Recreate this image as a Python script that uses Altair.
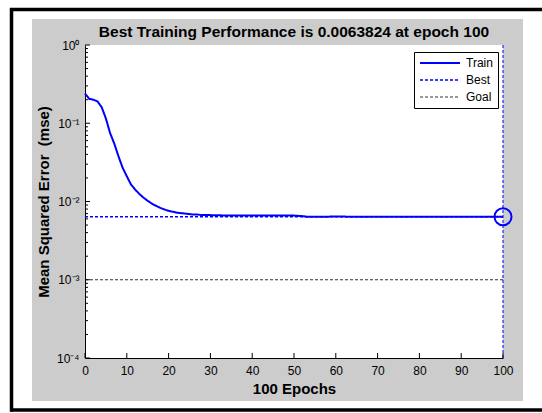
import altair as alt
import pandas as pd

# ---------------- data ----------------
epochs = list(range(0, 31)) + [35, 40, 45, 50, 52, 53, 60, 70, 80, 90, 100]
train_mse = [0.240, 0.205, 0.200, 0.190, 0.160, 0.115, 0.075, 0.055, 0.038, 0.027,
             0.021, 0.0165, 0.0142, 0.0125, 0.0112, 0.0102, 0.0094, 0.0088, 0.0083, 0.0079,
             0.0076, 0.0074, 0.0072, 0.0071, 0.0070, 0.0069, 0.0068, 0.0068, 0.0067, 0.0067,
             0.0067, 0.0066, 0.0066, 0.0066, 0.0066, 0.0065, 0.0064, 0.00641, 0.0064, 0.0064,
             0.00639, 0.0063824]
best_epoch = 100
best_mse = 0.0063824
goal_mse = 0.001
series_names = ["Train", "Best", "Goal"]
series_colors = ["#0000ff", "#0000ff", "#333333"]
series_dashes = [[1, 0], [3, 2], [3, 2]]
series_widths = [2, 1, 1]

x_ticks = [0, 10, 20, 30, 40, 50, 60, 70, 80, 90, 100]
y_major = [0.0001, 0.001, 0.01, 0.1, 1.0]
y_labels = ["10\u207b\u2074", "10\u207b\u00b3", "10\u207b\u00b2", "10\u207b\u00b9", "10\u2070"]
y_minor = [m * 10.0 ** e for e in range(-4, 0) for m in range(2, 10)]

title_text = "Best Training Performance is 0.0063824 at epoch 100"
x_title = "100 Epochs"
y_title = "Mean Squared Error\u00a0 (mse)"

# ---------------- layout ----------------
W, H = 418, 313
PAD = {"left": 85, "top": 45, "right": 39, "bottom": 55}
FONT = "Liberation Sans"
GRAY = "#cccccc"

rows = [{"epoch": e, "mse": v, "series": "Train"} for e, v in zip(epochs, train_mse)]
rows += [{"epoch": 0, "mse": best_mse, "series": "Best"},
         {"epoch": best_epoch, "mse": best_mse, "series": "Best"}]
rows += [{"epoch": 0, "mse": goal_mse, "series": "Goal"},
         {"epoch": best_epoch, "mse": goal_mse, "series": "Goal"}]
df = pd.DataFrame(rows)

xscale = alt.Scale(domain=[0, 100], nice=False, zero=False)
yscale = alt.Scale(type="log", domain=[0.0001, 1.0], nice=False)

parts = []
for v, lab in zip(y_major[:-1], y_labels[:-1]):
    parts.append(f"datum.value < {v * 5} ? '{lab}' : ")
label_expr = "".join(parts) + "'" + y_labels[-1] + "'"

one = alt.Data(values=[{"k": 1}])

X_ENC = dict(scale=xscale, title=x_title)
Y_ENC = dict(scale=yscale, title=y_title)

legend = alt.Legend(title=None, orient="none", legendX=329, legendY=7,
                    symbolType="M-1,0H7", symbolSize=100, strokeColor="black",
                    fillColor="white", padding=5, rowPadding=5, labelFontSize=12,
                    labelFont=FONT, labelColor="black", labelOffset=35,
                    cornerRadius=0)

lines = alt.Chart(df).mark_line().encode(
    x=alt.X("epoch:Q", **X_ENC,
            axis=alt.Axis(values=x_ticks, labelPadding=7, titleX=W / 2, titleY=30)),
    y=alt.Y("mse:Q", **Y_ENC,
            axis=alt.Axis(values=y_major, labelExpr=label_expr, titleX=-42, titleY=H / 2)),
    color=alt.Color("series:N", scale=alt.Scale(domain=series_names, range=series_colors),
                    legend=legend),
    strokeDash=alt.StrokeDash("series:N", scale=alt.Scale(domain=series_names, range=series_dashes),
                              legend=legend),
    strokeWidth=alt.StrokeWidth("series:N", scale=alt.Scale(domain=series_names, range=series_widths),
                                legend=legend),
)

vrule = alt.Chart(alt.Data(values=[{"epoch": best_epoch}])).mark_rule(
    color="#0000ff", strokeDash=[3, 2], strokeWidth=1).encode(
    x=alt.X("epoch:Q", **X_ENC))

circle = alt.Chart(alt.Data(values=[{"epoch": best_epoch, "mse": best_mse}])).mark_point(
    shape="circle", filled=False, color="#0000ff", strokeWidth=2, size=290, opacity=1).encode(
    x=alt.X("epoch:Q", **X_ENC),
    y=alt.Y("mse:Q", **Y_ENC))

# white margins around the grey figure area
margins = alt.Chart(one).mark_rect(fillOpacity=0, stroke="white", strokeWidth=60).encode(
    x=alt.value(-83), x2=alt.value(468), y=alt.value(-56), y2=alt.value(386))

# black outer frame (left, top, bottom)
frame_l = alt.Chart(one).mark_rule(color="black", strokeWidth=3.5).encode(
    x=alt.value(-73.5), y=alt.value(-37), y2=alt.value(366.5))
frame_t = alt.Chart(one).mark_rule(color="black", strokeWidth=3.5).encode(
    x=alt.value(-75), x2=alt.value(457), y=alt.value(-35.5))
frame_b = alt.Chart(one).mark_rule(color="black", strokeWidth=3.5).encode(
    x=alt.value(-75), x2=alt.value(457), y=alt.value(365))

title = alt.Chart(one).mark_text(text=title_text, font=FONT, fontSize=15.5, fontWeight="bold",
                                 color="black", align="center", baseline="alphabetic").encode(
    x=alt.value(W / 2), y=alt.value(-8))

# inward-pointing tick marks (MATLAB style)
ymaj = alt.Chart(alt.Data(values=[{"mse": v} for v in y_major])).mark_tick(
    color="black", thickness=1, size=5, orient="horizontal", opacity=1).encode(
    y=alt.Y("mse:Q", **Y_ENC), x=alt.value(2.5))

ymin = alt.Chart(alt.Data(values=[{"mse": v} for v in y_minor])).mark_tick(
    color="black", thickness=1, size=3, orient="horizontal", opacity=1).encode(
    y=alt.Y("mse:Q", **Y_ENC), x=alt.value(1.5))

xt = alt.Chart(alt.Data(values=[{"epoch": t} for t in x_ticks])).mark_tick(
    color="black", thickness=1, size=5, orient="vertical", opacity=1).encode(
    x=alt.X("epoch:Q", **X_ENC), y=alt.value(H - 2.5))

chart = alt.layer(lines, vrule, circle, margins, frame_l, frame_t, frame_b, title,
                  ymaj, ymin, xt).properties(
    width=W, height=H, padding=PAD,
    autosize=alt.AutoSizeParams(type="none"),
    background=GRAY,
).configure_view(strokeWidth=0, fill="white").configure_axis(
    ticks=False, grid=False, domainColor="black", labelFont=FONT, labelFontSize=12,
    labelColor="black", labelFlush=False, labelOverlap=False, labelPadding=6,
    titleFont=FONT, titleFontWeight="bold", titleColor="black", titleFontSize=15,
    titleBaseline="middle", titleAlign="center", zindex=1)

chart.save("out.html", embed_options={"renderer": "svg", "actions": False})
